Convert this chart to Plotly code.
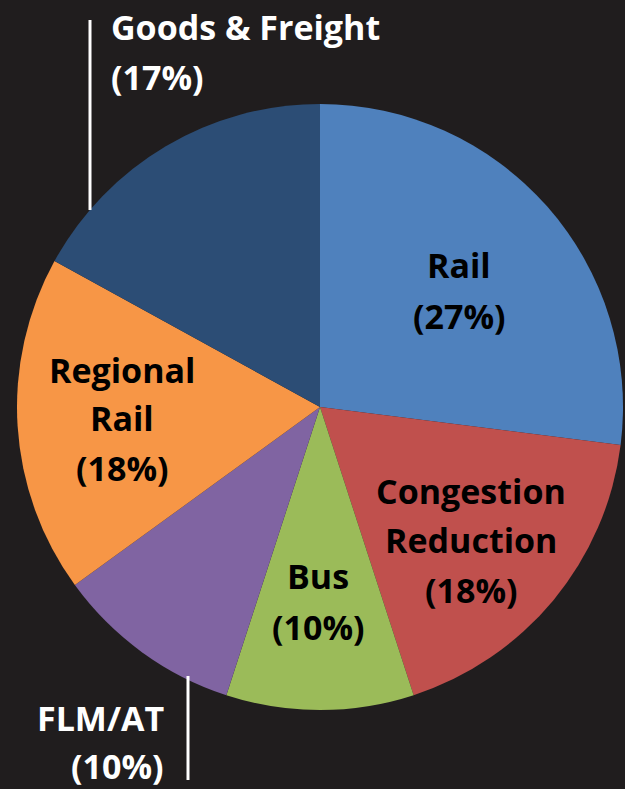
import plotly.graph_objects as go

labels = ["Rail", "Congestion Reduction", "Bus", "FLM/AT", "Regional Rail", "Goods & Freight"]
values = [27, 18, 10, 10, 18, 17]
colors = ["#4f81bd", "#c0504d", "#9bbb59", "#8064a2", "#f79646", "#2c4d75"]

W, H = 625, 789
BG = "#201d1e"

def px(x):
    return x / W

def py(y):
    return 1 - y / H

cx, cy, r = 320, 407, 303

fig = go.Figure(go.Pie(
    labels=labels, values=values, sort=False, direction="clockwise", rotation=0,
    marker=dict(colors=colors, line=dict(width=0)),
    textinfo="none", hoverinfo="label+percent", showlegend=False,
    domain=dict(x=[px(cx - r), px(cx + r)], y=[py(cy + r), py(cy - r)]),
))

FONT = "Open Sans"
FS = 34

# label lines: (text, x, y, anchor, color)
label_lines = [
    ("Goods & Freight", 109, 27, "left", "white"),
    ("(17%)", 109, 77, "left", "white"),
    ("Rail", 459, 265, "center", "black"),
    ("(27%)", 459, 316, "center", "black"),
    ("Regional", 122, 370, "center", "black"),
    ("Rail", 122, 418, "center", "black"),
    ("(18%)", 122, 468, "center", "black"),
    ("Congestion", 471, 491, "center", "black"),
    ("Reduction", 471, 540, "center", "black"),
    ("(18%)", 471, 590, "center", "black"),
    ("Bus", 318, 576, "center", "black"),
    ("(10%)", 318, 627, "center", "black"),
    ("FLM/AT", 166, 718, "right", "white"),
    ("(10%)", 166, 766, "right", "white"),
]

for t, x, y, anc, col in label_lines:
    fig.add_annotation(
        x=px(x), y=py(y), xref="paper", yref="paper", text=f"<b>{t}</b>",
        showarrow=False, xanchor=anc, yanchor="middle",
        font=dict(family=FONT, size=FS, color=col),
    )

# leader lines
fig.add_shape(type="line", xref="paper", yref="paper",
              x0=px(90), x1=px(90), y0=py(20), y1=py(210),
              line=dict(color="white", width=3))
fig.add_shape(type="line", xref="paper", yref="paper",
              x0=px(188), x1=px(188), y0=py(676), y1=py(780),
              line=dict(color="white", width=3))

fig.update_layout(
    width=W, height=H, margin=dict(l=0, r=0, t=0, b=0),
    paper_bgcolor=BG, plot_bgcolor=BG,
)

fig.write_html(
    "out.html",
    config={"displayModeBar": False},
    post_script="document.body.style.margin='0';document.body.style.background='%s';" % BG,
)
